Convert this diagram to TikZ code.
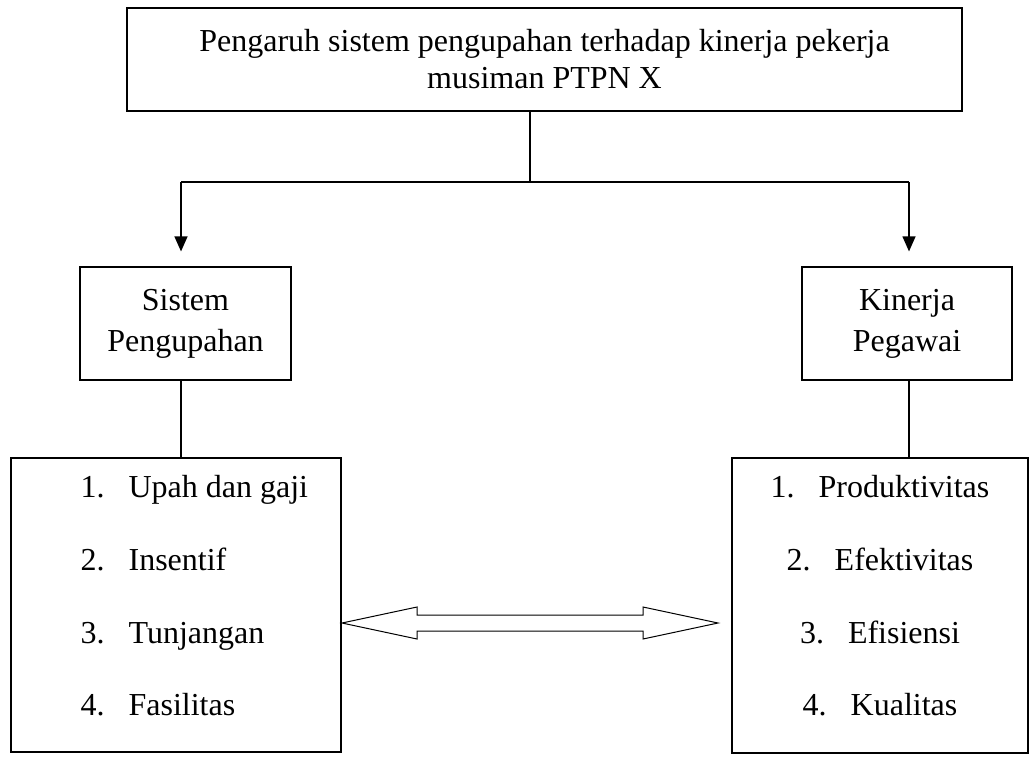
\documentclass[tikz,border=0pt]{standalone}
\usepackage{fontspec}
\setmainfont{Liberation Serif}
\usetikzlibrary{arrows.meta,calc}
\begin{document}
\begin{tikzpicture}[x=1pt,y=-1pt,line width=1.2pt,
  box/.style={draw, rectangle, inner sep=0pt, align=center, font=\fontsize{32}{37}\selectfont},
  txt/.style={font=\fontsize{32}{37}\selectfont, inner sep=0pt, anchor=base},
  arr/.style={-{Triangle[length=15pt,width=13pt]}}]
\useasboundingbox[fill=white] (0,0) rectangle (1030,756);

\node[box, minimum width=835pt, minimum height=103pt] (top) at (544.5,59.5)
  {Pengaruh sistem pengupahan terhadap kinerja pekerja\\musiman PTPN X};
\node[box, minimum width=211pt, minimum height=113pt, font=\fontsize{32}{41}\selectfont] (sp) at (185.5,323.5)
  {Sistem\\Pengupahan};
\node[box, minimum width=210pt, minimum height=113pt, font=\fontsize{32}{41}\selectfont] (kp) at (907,323.5)
  {Kinerja\\Pegawai};
\node[box, minimum width=330pt, minimum height=294pt] (lb) at (176,605) {};
\node[box, minimum width=296pt, minimum height=295pt] (rb) at (880,605.5) {};

\node[txt, anchor=base west] (l1) at (80,497) {\makebox[48pt][l]{1.}Upah dan gaji};
\node[txt, anchor=base west] (l2) at (80,570) {\makebox[48pt][l]{2.}Insentif};
\node[txt, anchor=base west] (l3) at (80,643) {\makebox[48pt][l]{3.}Tunjangan};
\node[txt, anchor=base west] (l4) at (80,715) {\makebox[48pt][l]{4.}Fasilitas};

\node[txt] (r1) at (880,497) {\makebox[48pt][l]{1.}Produktivitas};
\node[txt] (r2) at (880,570) {\makebox[48pt][l]{2.}Efektivitas};
\node[txt] (r3) at (880,643) {\makebox[48pt][l]{3.}Efisiensi};
\node[txt] (r4) at (880,715) {\makebox[48pt][l]{4.}Kualitas};

\coordinate (split) at (530,182);
\coordinate (la) at (181,182);
\coordinate (ra) at (909,182);
\draw (top.south -| split) -- (split);
\draw (la) -- (ra);
\draw[arr, shorten >=15pt] (la) -- (la |- sp.north);
\draw[arr, shorten >=15pt] (ra) -- (ra |- kp.north);
\draw (la |- sp.south) -- (la |- lb.north);
\draw (ra |- kp.south) -- (ra |- rb.north);

\coordinate (dl) at (342,623);
\coordinate (dr) at (718,623);
\draw[line width=1pt] (dl) -- ($(dl)+(75,-16)$) -- ($(dl)+(75,-8)$) -- ($(dr)+(-75,-8)$)
  -- ($(dr)+(-75,-16)$) -- (dr) -- ($(dr)+(-75,16)$) -- ($(dr)+(-75,8)$)
  -- ($(dl)+(75,8)$) -- ($(dl)+(75,16)$) -- cycle;
\end{tikzpicture}
\end{document}
